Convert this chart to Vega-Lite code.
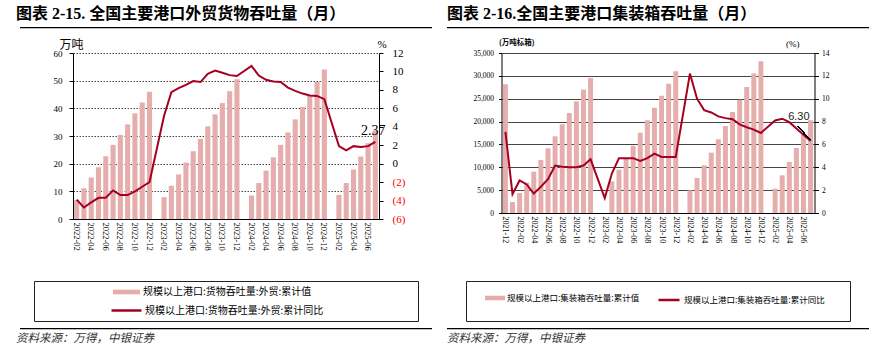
{
  "$schema": "https://vega.github.io/schema/vega-lite/v6.json",
  "background": "white",
  "padding": {"left": 16, "top": 6, "right": 0, "bottom": 0},
  "spacing": 15,
  "resolve": {"scale": {"fill": "independent", "stroke": "independent"}, "legend": {"fill": "independent", "stroke": "independent"}},
  "config": {
    "view": {"stroke": null},
    "axis": {"labelFont": "Liberation Serif", "titleFont": "Liberation Serif", "domainColor": "black", "tickColor": "black", "labelColor": "black", "titleColor": "black", "titleFontWeight": "normal", "grid": false},
    "title": {"color": "black"},
    "legend": {"padding": 0, "labelColor": "black", "labelLimit": 400, "title": null}
  },
  "hconcat": [
    {
      "bounds": "flush",
      "center": true,
      "spacing": 7,
      "vconcat": [
        {
          "width": 412, "height": 1.3,
          "data": {"values": []}, "mark": "point", "encoding": {},
          "view": {"fill": "black", "stroke": null},
          "title": {"text": "图表 2-15. 全国主要港口外贸货物吞吐量（月）", "anchor": "start", "font": "Liberation Serif, Noto Sans CJK SC", "fontSize": 16, "fontWeight": "bold", "offset": 5, "dx": -4}
        },
        {"width": 10, "height": 9.9, "data": {"values": []}, "mark": "point", "encoding": {}},
        {
          "width": 306, "height": 166,
          "data": {"values": [
            {"m":"2022-02","v":6.9,"yoy":-3.9},
            {"m":"2022-03","v":11.1,"yoy":-4.75},
            {"m":"2022-04","v":15.0,"yoy":-4.2},
            {"m":"2022-05","v":18.7,"yoy":-3.7},
            {"m":"2022-06","v":22.7,"yoy":-3.7},
            {"m":"2022-07","v":26.8,"yoy":-2.9},
            {"m":"2022-08","v":30.4,"yoy":-3.4},
            {"m":"2022-09","v":34.2,"yoy":-3.4},
            {"m":"2022-10","v":38.2,"yoy":-3.0},
            {"m":"2022-11","v":42.1,"yoy":-2.5},
            {"m":"2022-12","v":46.0,"yoy":-2.0},
            {"m":"2023-01","v":null,"yoy":null},
            {"m":"2023-02","v":7.9,"yoy":5.2},
            {"m":"2023-03","v":12.0,"yoy":7.75},
            {"m":"2023-04","v":16.1,"yoy":8.2},
            {"m":"2023-05","v":20.4,"yoy":8.55},
            {"m":"2023-06","v":24.5,"yoy":8.95},
            {"m":"2023-07","v":28.9,"yoy":8.85},
            {"m":"2023-08","v":33.5,"yoy":9.75},
            {"m":"2023-09","v":37.8,"yoy":10.1},
            {"m":"2023-10","v":41.9,"yoy":9.85},
            {"m":"2023-11","v":46.2,"yoy":9.6},
            {"m":"2023-12","v":50.5,"yoy":9.5},
            {"m":"2024-01","v":null,"yoy":null},
            {"m":"2024-02","v":8.5,"yoy":10.6},
            {"m":"2024-03","v":13.0,"yoy":9.55},
            {"m":"2024-04","v":17.5,"yoy":9.1},
            {"m":"2024-05","v":22.3,"yoy":8.9},
            {"m":"2024-06","v":26.8,"yoy":8.85},
            {"m":"2024-07","v":31.3,"yoy":8.25},
            {"m":"2024-08","v":36.0,"yoy":7.9},
            {"m":"2024-09","v":40.5,"yoy":7.6},
            {"m":"2024-10","v":44.5,"yoy":7.4},
            {"m":"2024-11","v":49.5,"yoy":7.35},
            {"m":"2024-12","v":54.0,"yoy":7.0},
            {"m":"2025-01","v":null,"yoy":null},
            {"m":"2025-02","v":8.7,"yoy":1.9},
            {"m":"2025-03","v":13.0,"yoy":1.45},
            {"m":"2025-04","v":17.9,"yoy":1.9},
            {"m":"2025-05","v":22.6,"yoy":1.8},
            {"m":"2025-06","v":27.4,"yoy":1.9},
            {"m":"2025-07","v":32.0,"yoy":2.37}
          ]},
          "encoding": {
            "x": {"field": "m", "type": "ordinal",
              "scale": {"domain": ["2022-02","2022-03","2022-04","2022-05","2022-06","2022-07","2022-08","2022-09","2022-10","2022-11","2022-12","2023-01","2023-02","2023-03","2023-04","2023-05","2023-06","2023-07","2023-08","2023-09","2023-10","2023-11","2023-12","2024-01","2024-02","2024-03","2024-04","2024-05","2024-06","2024-07","2024-08","2024-09","2024-10","2024-11","2024-12","2025-01","2025-02","2025-03","2025-04","2025-05","2025-06","2025-07"], "paddingInner": 0.3, "paddingOuter": 0.15},
              "axis": {"title": null, "values": ["2022-02","2022-04","2022-06","2022-08","2022-10","2022-12","2023-02","2023-04","2023-06","2023-08","2023-10","2023-12","2024-02","2024-04","2024-06","2024-08","2024-10","2024-12","2025-02","2025-04","2025-06"], "labelAngle": 90, "labelFontSize": 8.5, "ticks": false, "labelPadding": 3, "domainWidth": 1.2}}
          },
          "layer": [
            {
              "mark": {"type": "bar"},
              "encoding": {
                "y": {"field": "v", "type": "quantitative", "scale": {"domain": [0, 60]},
                  "axis": {"orient": "left", "values": [0,10,20,30,40,50,60], "grid": true, "gridColor": "#444", "gridDash": [1.5, 1.5], "gridWidth": 1, "tickSize": 4, "labelFontSize": 9, "labelPadding": 7, "title": "万吨", "titleFont": "Noto Sans CJK SC", "titleFontSize": 12, "titleAngle": 0, "titleAlign": "left", "titleBaseline": "alphabetic", "titleX": -14, "titleY": -5}},
                "fill": {"datum": "规模以上港口:货物吞吐量:外贸:累计值", "scale": {"range": ["#e6adad"]},
                  "legend": {"orient": "none", "legendX": 93, "legendY": 251.5, "symbolType": "M-1,-0.174L1,-0.174L1,0.174L-1,0.174Z", "symbolSize": 729, "symbolStrokeWidth": 0, "labelOffset": 3, "labelFont": "Noto Sans CJK SC", "labelFontSize": 10}}
              }
            },
            {
              "encoding": {
                "y": {"field": "yoy", "type": "quantitative", "scale": {"domain": [-6, 12]},
                  "axis": {"orient": "right", "values": [-6,-4,-2,0,2,4,6,8,10,12], "tickSize": 4, "labelFontSize": 11, "labelPadding": 9,
                    "labelExpr": "datum.value < 0 ? '(' + (-datum.value) + ')' : datum.value",
                    "labelColor": {"condition": {"test": "datum.value < 0", "value": "#ff0000"}, "value": "black"},
                    "title": "%", "titleFontSize": 11, "titleAngle": 0, "titleAlign": "left", "titleBaseline": "alphabetic", "titleX": -2, "titleY": -6}}
              },
              "layer": [
                {
                  "transform": [{"filter": "datum.yoy != null"}],
                  "mark": {"type": "line", "strokeWidth": 2},
                  "encoding": {
                    "stroke": {"datum": "规模以上港口:货物吞吐量:外贸:累计同比", "scale": {"range": ["#a50021"]},
                      "legend": {"orient": "none", "legendX": 90, "legendY": 267, "symbolType": "stroke", "symbolSize": 900, "symbolStrokeWidth": 2.5, "labelOffset": 2, "labelFont": "Noto Sans CJK SC", "labelFontSize": 10}}
                  }
                },
                {
                  "transform": [{"filter": "datum.m == '2025-07'"}],
                  "mark": {"type": "text", "color": "black", "font": "Liberation Serif", "fontSize": 14, "align": "center", "baseline": "alphabetic", "dy": -7, "dx": -2},
                  "encoding": {"text": {"field": "yoy", "type": "quantitative", "format": ".2f"}}
                }
              ]
            }
          ],
          "resolve": {"scale": {"y": "independent"}}
        },
        {"width": 10, "height": 47.3, "data": {"values": []}, "mark": "point", "encoding": {}},
        {
          "width": 384, "height": 40,
          "data": {"values": []}, "mark": "point", "encoding": {},
          "view": {"stroke": "#222", "strokeWidth": 1}
        },
        {
          "width": 412, "height": 1.3,
          "data": {"values": []}, "mark": "point", "encoding": {},
          "view": {"fill": "black", "stroke": null},
          "title": {"text": "资料来源：万得，中银证券", "orient": "bottom", "anchor": "start", "font": "Noto Sans CJK SC", "fontSize": 11.5, "fontStyle": "italic", "fontWeight": "normal", "color": "#333", "offset": 4, "dx": -4}
        }
      ]
    },
    {
      "bounds": "flush",
      "center": true,
      "spacing": 7,
      "vconcat": [
        {
          "width": 422, "height": 1.3,
          "data": {"values": []}, "mark": "point", "encoding": {},
          "view": {"fill": "black", "stroke": null},
          "title": {"text": "图表 2-16.全国主要港口集装箱吞吐量（月）", "anchor": "start", "font": "Liberation Serif, Noto Sans CJK SC", "fontSize": 16, "fontWeight": "bold", "offset": 5, "dx": 0}
        },
        {"width": 10, "height": 9.9, "data": {"values": []}, "mark": "point", "encoding": {}},
        {
          "width": 313, "height": 160,
          "data": {"values": [
            {"m":"2021-12","v":28150,"yoy":7.1},
            {"m":"2022-01","v":2400,"yoy":1.65},
            {"m":"2022-02","v":4380,"yoy":2.85},
            {"m":"2022-03","v":6640,"yoy":2.5},
            {"m":"2022-04","v":9040,"yoy":1.7},
            {"m":"2022-05","v":11600,"yoy":2.3},
            {"m":"2022-06","v":14150,"yoy":2.95},
            {"m":"2022-07","v":16780,"yoy":4.15},
            {"m":"2022-08","v":19400,"yoy":4.05},
            {"m":"2022-09","v":21880,"yoy":4.0},
            {"m":"2022-10","v":24430,"yoy":4.0},
            {"m":"2022-11","v":26990,"yoy":4.15},
            {"m":"2022-12","v":29540,"yoy":4.7},
            {"m":"2023-01","v":null,"yoy":null},
            {"m":"2023-02","v":null,"yoy":1.3},
            {"m":"2023-03","v":6930,"yoy":3.45},
            {"m":"2023-04","v":9480,"yoy":4.8},
            {"m":"2023-05","v":12030,"yoy":4.8},
            {"m":"2023-06","v":14730,"yoy":4.8},
            {"m":"2023-07","v":17580,"yoy":4.55},
            {"m":"2023-08","v":20280,"yoy":4.8},
            {"m":"2023-09","v":23050,"yoy":5.2},
            {"m":"2023-10","v":25670,"yoy":4.9},
            {"m":"2023-11","v":28300,"yoy":4.9},
            {"m":"2023-12","v":31000,"yoy":4.9},
            {"m":"2024-01","v":null,"yoy":null},
            {"m":"2024-02","v":4960,"yoy":12.2},
            {"m":"2024-03","v":7660,"yoy":10.0},
            {"m":"2024-04","v":10430,"yoy":9.0},
            {"m":"2024-05","v":13200,"yoy":8.8},
            {"m":"2024-06","v":16120,"yoy":8.45},
            {"m":"2024-07","v":19040,"yoy":8.3},
            {"m":"2024-08","v":22100,"yoy":8.2},
            {"m":"2024-09","v":24800,"yoy":7.75},
            {"m":"2024-10","v":27570,"yoy":7.5},
            {"m":"2024-11","v":30490,"yoy":7.3},
            {"m":"2024-12","v":33190,"yoy":7.0},
            {"m":"2025-01","v":null,"yoy":null},
            {"m":"2025-02","v":5320,"yoy":8.1},
            {"m":"2025-03","v":8240,"yoy":8.25},
            {"m":"2025-04","v":11160,"yoy":7.95},
            {"m":"2025-05","v":14220,"yoy":7.4},
            {"m":"2025-06","v":17140,"yoy":6.85},
            {"m":"2025-07","v":20280,"yoy":6.3}
          ]},
          "encoding": {
            "x": {"field": "m", "type": "ordinal",
              "scale": {"domain": ["2021-12","2022-01","2022-02","2022-03","2022-04","2022-05","2022-06","2022-07","2022-08","2022-09","2022-10","2022-11","2022-12","2023-01","2023-02","2023-03","2023-04","2023-05","2023-06","2023-07","2023-08","2023-09","2023-10","2023-11","2023-12","2024-01","2024-02","2024-03","2024-04","2024-05","2024-06","2024-07","2024-08","2024-09","2024-10","2024-11","2024-12","2025-01","2025-02","2025-03","2025-04","2025-05","2025-06","2025-07"], "paddingInner": 0.3, "paddingOuter": 0.2},
              "axis": {"title": null, "values": ["2021-12","2022-02","2022-04","2022-06","2022-08","2022-10","2022-12","2023-02","2023-04","2023-06","2023-08","2023-10","2023-12","2024-02","2024-04","2024-06","2024-08","2024-10","2024-12","2025-02","2025-04","2025-06"], "labelAngle": 90, "labelFontSize": 8, "ticks": false, "labelPadding": 3}}
          },
          "layer": [
            {
              "mark": {"type": "bar"},
              "encoding": {
                "y": {"field": "v", "type": "quantitative", "scale": {"domain": [0, 35000]},
                  "axis": {"orient": "left", "values": [0,5000,10000,15000,20000,25000,30000,35000], "labelExpr": "format(datum.value, ',')", "grid": true, "gridColor": "#444", "gridWidth": 1, "tickSize": 3, "labelFontSize": 7.5, "labelPadding": 5, "title": "(万吨标箱)", "titleFont": "Noto Sans CJK SC", "titleFontSize": 7.5, "titleFontWeight": "bold", "titleAngle": 0, "titleAlign": "left", "titleBaseline": "alphabetic", "titleX": -3, "titleY": -9}},
                "fill": {"datum": "规模以上港口:集装箱吞吐量:累计值", "scale": {"range": ["#e6adad"]},
                  "legend": {"orient": "none", "legendX": 38, "legendY": 261, "symbolType": "M-1,-0.23L1,-0.23L1,0.23L-1,0.23Z", "symbolSize": 400, "symbolStrokeWidth": 0, "labelOffset": 2, "labelFont": "Noto Sans CJK SC", "labelFontSize": 8.5}}
              }
            },
            {
              "encoding": {
                "y": {"field": "yoy", "type": "quantitative", "scale": {"domain": [0, 14]},
                  "axis": {"orient": "right", "values": [0,2,4,6,8,10,12,14], "tickSize": 4, "labelFontSize": 7.5, "labelPadding": 3,
                    "title": "(%)", "titleFontSize": 9, "titleAngle": 0, "titleAlign": "left", "titleBaseline": "alphabetic", "titleX": -29, "titleY": -7}}
              },
              "layer": [
                {
                  "transform": [{"filter": "datum.yoy != null"}],
                  "mark": {"type": "line", "strokeWidth": 2},
                  "encoding": {
                    "stroke": {"datum": "规模以上港口:集装箱吞吐量:累计同比", "scale": {"range": ["#a50021"]},
                      "legend": {"orient": "none", "legendX": 210, "legendY": 261, "symbolType": "stroke", "symbolSize": 441, "symbolStrokeWidth": 2.5, "labelOffset": 3, "labelFont": "Noto Sans CJK SC", "labelFontSize": 8.5}}
                  }
                },
                {
                  "mark": {"type": "rule", "color": "black", "strokeWidth": 1},
                  "encoding": {"x": {"datum": "2025-05", "bandPosition": 0.8}, "x2": {"datum": "2025-07", "bandPosition": 0.4}, "y": {"datum": 7.6}, "y2": {"datum": 6.4}}
                },
                {
                  "transform": [{"filter": "datum.m == '2025-07'"}],
                  "mark": {"type": "text", "color": "#222", "font": "Liberation Sans", "fontSize": 11, "align": "right", "baseline": "alphabetic", "dy": -21, "dx": -1},
                  "encoding": {"text": {"field": "yoy", "type": "quantitative", "format": ".2f"}}
                }
              ]
            }
          ],
          "resolve": {"scale": {"y": "independent"}}
        },
        {"width": 10, "height": 53.3, "data": {"values": []}, "mark": "point", "encoding": {}},
        {
          "width": 384, "height": 40,
          "data": {"values": []}, "mark": "point", "encoding": {},
          "view": {"stroke": "#222", "strokeWidth": 1}
        },
        {
          "width": 422, "height": 1.3,
          "data": {"values": []}, "mark": "point", "encoding": {},
          "view": {"fill": "black", "stroke": null},
          "title": {"text": "资料来源：万得，中银证券", "orient": "bottom", "anchor": "start", "font": "Noto Sans CJK SC", "fontSize": 11.5, "fontStyle": "italic", "fontWeight": "normal", "color": "#333", "offset": 4, "dx": 0}
        }
      ]
    }
  ]
}
